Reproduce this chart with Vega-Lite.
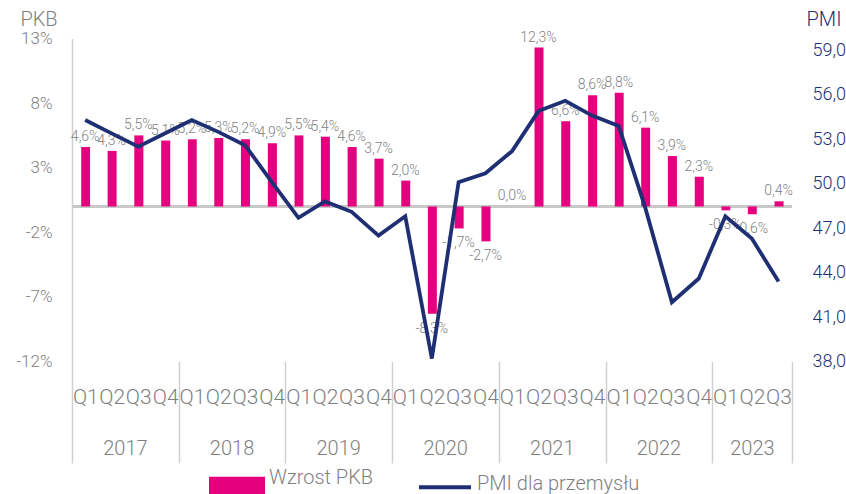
{
  "$schema": "https://vega.github.io/schema/vega-lite/v6.json",
  "width": 720,
  "height": 323,
  "autosize": {"type": "none"},
  "padding": {"left": 72, "top": 38.5, "right": 54, "bottom": 132.5},
  "background": "white",
  "config": {
    "font": "Roboto",
    "view": {"stroke": null},
    "locale": {"number": {"decimal": ",", "thousands": " ", "grouping": [3], "currency": ["", ""], "minus": "-"}}
  },
  "data": {
    "values": [
      {"date": "2017-01-01", "gdp": 4.6, "pmi": 54.3},
      {"date": "2017-04-01", "gdp": 4.3, "pmi": 53.4},
      {"date": "2017-07-01", "gdp": 5.5, "pmi": 52.5},
      {"date": "2017-10-01", "gdp": 5.1, "pmi": 53.4},
      {"date": "2018-01-01", "gdp": 5.2, "pmi": 54.3},
      {"date": "2018-04-01", "gdp": 5.3, "pmi": 53.5},
      {"date": "2018-07-01", "gdp": 5.2, "pmi": 52.6},
      {"date": "2018-10-01", "gdp": 4.9, "pmi": 50.1},
      {"date": "2019-01-01", "gdp": 5.5, "pmi": 47.7},
      {"date": "2019-04-01", "gdp": 5.4, "pmi": 48.8},
      {"date": "2019-07-01", "gdp": 4.6, "pmi": 48.1},
      {"date": "2019-10-01", "gdp": 3.7, "pmi": 46.5},
      {"date": "2020-01-01", "gdp": 2.0, "pmi": 47.8},
      {"date": "2020-04-01", "gdp": -8.3, "pmi": 38.2},
      {"date": "2020-07-01", "gdp": -1.7, "pmi": 50.1},
      {"date": "2020-10-01", "gdp": -2.7, "pmi": 50.7},
      {"date": "2021-01-01", "gdp": 0.0, "pmi": 52.2},
      {"date": "2021-04-01", "gdp": 12.3, "pmi": 54.9},
      {"date": "2021-07-01", "gdp": 6.6, "pmi": 55.6},
      {"date": "2021-10-01", "gdp": 8.6, "pmi": 54.6},
      {"date": "2022-01-01", "gdp": 8.8, "pmi": 53.9},
      {"date": "2022-04-01", "gdp": 6.1, "pmi": 48.4},
      {"date": "2022-07-01", "gdp": 3.9, "pmi": 42.0},
      {"date": "2022-10-01", "gdp": 2.3, "pmi": 43.6},
      {"date": "2023-01-01", "gdp": -0.3, "pmi": 47.8},
      {"date": "2023-04-01", "gdp": -0.6, "pmi": 46.3},
      {"date": "2023-07-01", "gdp": 0.4, "pmi": 43.4}
    ]
  },
  "resolve": {
    "scale": {"x": "independent", "y": "independent", "color": "shared"},
    "axis": {"x": "independent", "y": "independent"}
  },
  "layer": [
    {
      "mark": {"type": "rule", "color": "#c8c8c8", "strokeWidth": 1.5},
      "encoding": {
        "y": {"datum": 0, "type": "quantitative", "scale": {"domain": [-12, 13], "nice": false}, "axis": null}
      }
    },
    {
      "mark": {"type": "bar", "width": {"band": 0.375}},
      "encoding": {
        "x": {
          "field": "date", "type": "temporal", "timeUnit": "utcyearquarter",
          "scale": {"type": "utc", "nice": false, "domain": [{"year": 2017, "month": 1, "date": 1, "utc": true}, {"year": 2023, "month": 10, "date": 1, "utc": true}]},
          "axis": {
            "orient": "bottom", "title": null, "domain": false, "ticks": false, "tickSize": 0, "grid": false,
            "tickCount": {"interval": "month", "step": 3},
            "labelExpr": "datum.value < utc(2023, 9, 1) ? 'Q' + utcquarter(datum.value) : ''",
            "labelOffset": 13.33, "labelAlign": "center", "labelFlush": false, "labelOverlap": false,
            "labelPadding": 25, "labelFontSize": 21, "labelFontWeight": 300, "labelColor": "#7f7f7f", "labelFont": "Roboto"
          }
        },
        "y": {
          "field": "gdp", "type": "quantitative",
          "scale": {"domain": [-12, 13], "nice": false},
          "axis": {
            "orient": "left", "values": [-12, -7, -2, 3, 8, 13], "labelExpr": "datum.value + '%'",
            "grid": false, "ticks": false, "tickSize": 0, "domain": true, "domainColor": "#d0d0d0", "domainWidth": 1.5,
            "labelPadding": 20, "labelFontSize": 17, "labelFontWeight": 300, "labelColor": "#7f7f7f", "labelFont": "Roboto", "labelOverlap": false,
            "title": "PKB", "titleAngle": 0, "titleX": -33.5, "titleY": -19.5, "titleAlign": "center", "titleBaseline": "middle",
            "titleFontSize": 20, "titleFontWeight": 300, "titleColor": "#7f7f7f", "titleFont": "Roboto"
          }
        },
        "color": {
          "datum": "Wzrost PKB", "type": "nominal",
          "scale": {"domain": ["Wzrost PKB", "PMI dla przemysłu"], "range": ["#e4007e", "#1f2f73"]},
          "legend": {
            "orient": "none", "legendX": 137, "legendY": 411, "direction": "horizontal", "title": null,
            "symbolSize": 2704, "labelFontSize": 20, "labelFontWeight": 300, "labelColor": "#7f7f7f", "labelFont": "Roboto",
            "labelOffset": 4, "columnPadding": 37, "labelLimit": 400,
            "encode": {
              "symbols": {
                "update": {
                  "shape": {"signal": "datum.value === 'Wzrost PKB' ? 'M-1,0.04H1V0.6H-1Z' : 'M-1,0.14H1'"},
                  "fill": {"signal": "datum.value === 'Wzrost PKB' ? '#e4007e' : 'transparent'"},
                  "stroke": {"signal": "datum.value === 'Wzrost PKB' ? 'transparent' : '#1f2f73'"},
                  "strokeWidth": {"value": 4},
                  "opacity": {"value": 1}
                }
              }
            }
          }
        }
      }
    },
    {
      "transform": [{"filter": "datum.gdp >= 0"}],
      "mark": {"type": "text", "baseline": "bottom", "dy": -3, "fontSize": 14, "fontWeight": 300, "color": "#7f7f7f", "font": "Roboto",
        "text": {"expr": "format(datum.gdp, '.1f') + '%'"}},
      "encoding": {
        "x": {
          "field": "date", "type": "temporal", "timeUnit": "utcyearquarter", "bandPosition": 0.5,
          "scale": {"type": "utc", "nice": false, "domain": [{"year": 2017, "month": 1, "date": 1, "utc": true}, {"year": 2023, "month": 10, "date": 1, "utc": true}]},
          "axis": {
            "orient": "bottom", "title": null, "domain": false, "ticks": false, "tickSize": 0, "grid": false,
            "values": [
              {"year": 2017, "month": 7, "date": 1, "utc": true},
              {"year": 2018, "month": 7, "date": 1, "utc": true},
              {"year": 2019, "month": 7, "date": 1, "utc": true},
              {"year": 2020, "month": 7, "date": 1, "utc": true},
              {"year": 2021, "month": 7, "date": 1, "utc": true},
              {"year": 2022, "month": 7, "date": 1, "utc": true},
              {"year": 2023, "month": 5, "date": 17, "utc": true}
            ],
            "labelExpr": "utcFormat(datum.value, '%Y')",
            "labelAlign": "center", "labelFlush": false, "labelOverlap": false,
            "labelPadding": 77, "labelFontSize": 20, "labelFontWeight": 300, "labelColor": "#7f7f7f", "labelFont": "Roboto"
          }
        },
        "y": {"field": "gdp", "type": "quantitative", "scale": {"domain": [-12, 13], "nice": false}, "axis": null}
      }
    },
    {
      "transform": [{"filter": "datum.gdp < 0"}],
      "mark": {"type": "text", "baseline": "top", "dy": 8, "fontSize": 14, "fontWeight": 300, "color": "#7f7f7f", "font": "Roboto",
        "text": {"expr": "format(datum.gdp, '.1f') + '%'"}},
      "encoding": {
        "x": {
          "field": "date", "type": "temporal", "timeUnit": "utcyearquarter", "bandPosition": 0.5,
          "scale": {"type": "utc", "nice": false, "domain": [{"year": 2017, "month": 1, "date": 1, "utc": true}, {"year": 2023, "month": 10, "date": 1, "utc": true}]},
          "axis": null
        },
        "y": {"field": "gdp", "type": "quantitative", "scale": {"domain": [-12, 13], "nice": false}, "axis": null}
      }
    },
    {
      "mark": {"type": "line", "strokeWidth": 3.8, "strokeJoin": "miter"},
      "encoding": {
        "x": {
          "field": "date", "type": "temporal", "timeUnit": "utcyearquarter", "bandPosition": 0.5,
          "scale": {"type": "utc", "nice": false, "domain": [{"year": 2017, "month": 1, "date": 1, "utc": true}, {"year": 2023, "month": 10, "date": 1, "utc": true}]},
          "axis": {
            "orient": "bottom", "title": null, "domain": false, "labels": false, "grid": false,
            "ticks": true, "tickSize": 101.5, "tickColor": "#d0d0d0", "tickWidth": 1.5,
            "values": [
              {"year": 2017, "month": 1, "date": 1, "utc": true},
              {"year": 2018, "month": 1, "date": 1, "utc": true},
              {"year": 2019, "month": 1, "date": 1, "utc": true},
              {"year": 2020, "month": 1, "date": 1, "utc": true},
              {"year": 2021, "month": 1, "date": 1, "utc": true},
              {"year": 2022, "month": 1, "date": 1, "utc": true},
              {"year": 2023, "month": 1, "date": 1, "utc": true},
              {"year": 2023, "month": 10, "date": 1, "utc": true}
            ]
          }
        },
        "y": {
          "field": "pmi", "type": "quantitative",
          "scale": {"domain": [38, 59.8], "nice": false, "zero": false},
          "axis": {
            "orient": "right", "values": [38, 41, 44, 47, 50, 53, 56, 59], "labelExpr": "format(datum.value, '.1f')",
            "grid": false, "ticks": false, "tickSize": 0, "domain": false,
            "labelPadding": 20, "labelFontSize": 18, "labelColor": "#1f2f73", "labelFont": "Roboto", "labelFontWeight": 300, "labelOverlap": false,
            "title": "PMI", "titleAngle": 0, "titleX": 31.5, "titleY": -19.5, "titleAlign": "center", "titleBaseline": "middle",
            "titleFontSize": 20, "titleFontWeight": 300, "titleColor": "#1f2f73", "titleFont": "Roboto"
          }
        },
        "color": {"datum": "PMI dla przemysłu", "type": "nominal"}
      }
    }
  ]
}
